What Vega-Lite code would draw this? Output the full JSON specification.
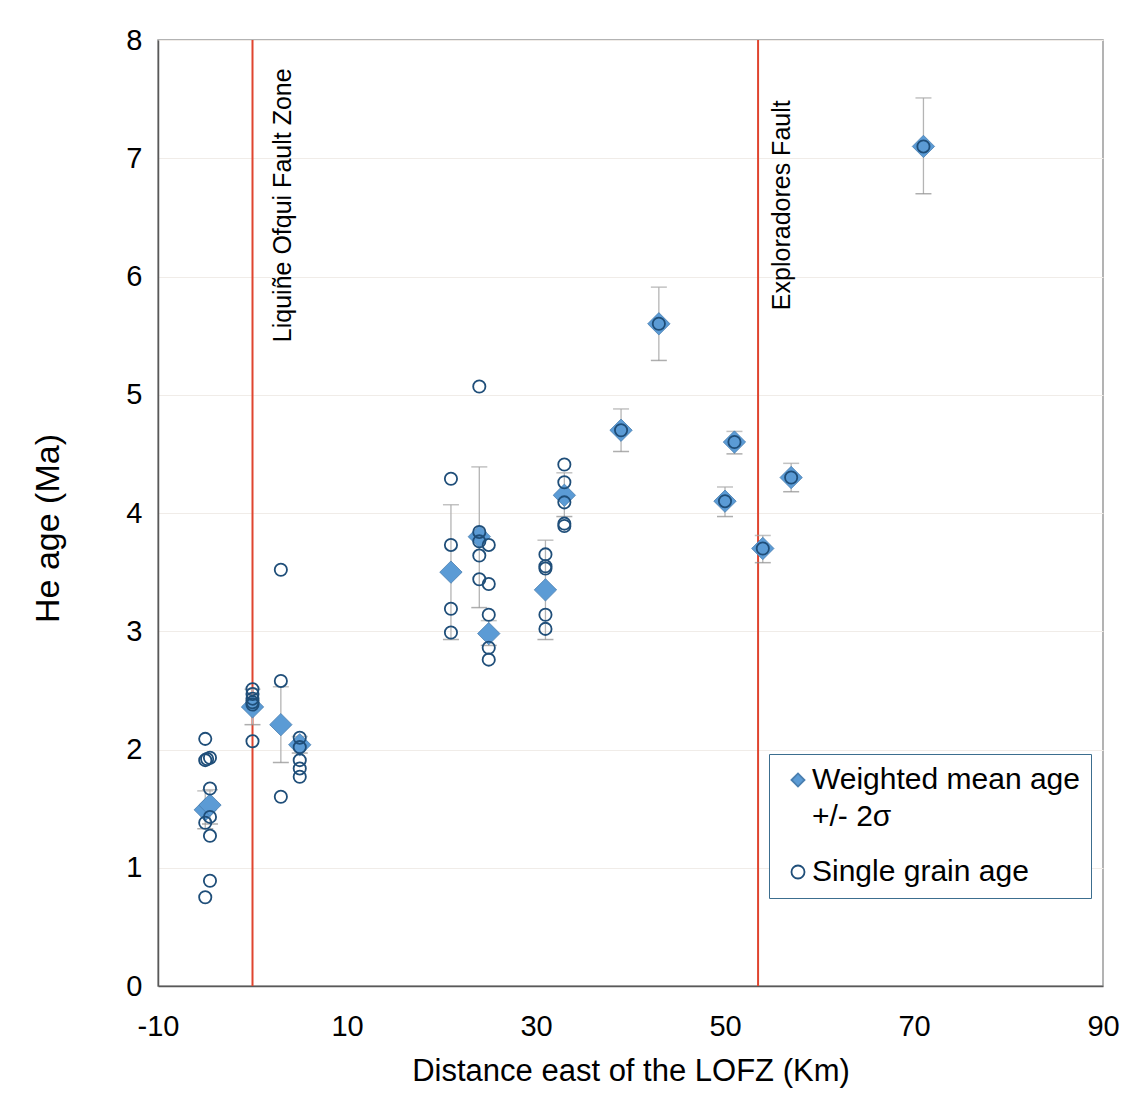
{
  "$schema": "https://vega.github.io/schema/vega-lite/v6.json",
  "autosize": "none",
  "width": 945,
  "height": 946,
  "padding": {"left": 158, "top": 40, "right": 31, "bottom": 125},
  "background": "white",
  "config": {
    "font": "Liberation Sans",
    "view": {"stroke": "#9a9a9a", "strokeWidth": 1.5},
    "axis": {"labelFont": "Liberation Sans", "titleFont": "Liberation Sans", "labelColor": "#000", "titleColor": "#000", "titleFontWeight": "normal", "domainColor": "#595959", "domainWidth": 1.5, "ticks": false, "labelFlush": false, "labelOverlap": false},
    "style": {"guide-label": {"lineHeight": 37}}
  },
  "datasets": {
    "means": [
      {"x": -5, "age": 1.49, "lo": 1.33, "hi": 1.65, "type": "Weighted mean age +/- 2σ"},
      {"x": -4.5, "age": 1.53, "lo": 1.37, "hi": 1.66, "type": "Weighted mean age +/- 2σ"},
      {"x": 0, "age": 2.36, "lo": 2.21, "hi": 2.51, "type": "Weighted mean age +/- 2σ"},
      {"x": 3, "age": 2.21, "lo": 1.89, "hi": 2.53, "type": "Weighted mean age +/- 2σ"},
      {"x": 5, "age": 2.04, "lo": 1.97, "hi": 2.11, "type": "Weighted mean age +/- 2σ"},
      {"x": 21, "age": 3.5, "lo": 2.93, "hi": 4.07, "type": "Weighted mean age +/- 2σ"},
      {"x": 24, "age": 3.8, "lo": 3.2, "hi": 4.39, "type": "Weighted mean age +/- 2σ"},
      {"x": 25, "age": 2.98, "lo": 2.88, "hi": 3.09, "type": "Weighted mean age +/- 2σ"},
      {"x": 31, "age": 3.35, "lo": 2.93, "hi": 3.77, "type": "Weighted mean age +/- 2σ"},
      {"x": 33, "age": 4.15, "lo": 3.97, "hi": 4.34, "type": "Weighted mean age +/- 2σ"},
      {"x": 39, "age": 4.7, "lo": 4.52, "hi": 4.88, "type": "Weighted mean age +/- 2σ"},
      {"x": 43, "age": 5.6, "lo": 5.29, "hi": 5.91, "type": "Weighted mean age +/- 2σ"},
      {"x": 50, "age": 4.1, "lo": 3.97, "hi": 4.22, "type": "Weighted mean age +/- 2σ"},
      {"x": 51, "age": 4.6, "lo": 4.5, "hi": 4.69, "type": "Weighted mean age +/- 2σ"},
      {"x": 54, "age": 3.7, "lo": 3.58, "hi": 3.81, "type": "Weighted mean age +/- 2σ"},
      {"x": 57, "age": 4.3, "lo": 4.18, "hi": 4.42, "type": "Weighted mean age +/- 2σ"},
      {"x": 71, "age": 7.1, "lo": 6.7, "hi": 7.51, "type": "Weighted mean age +/- 2σ"}
    ],
    "grains": [
      {"x": -5, "age": 2.09, "type": "Single grain age"},
      {"x": -5, "age": 1.91, "type": "Single grain age"},
      {"x": -5, "age": 1.38, "type": "Single grain age"},
      {"x": -5, "age": 0.75, "type": "Single grain age"},
      {"x": -4.8, "age": 1.92, "type": "Single grain age"},
      {"x": -4.5, "age": 1.93, "type": "Single grain age"},
      {"x": -4.5, "age": 1.67, "type": "Single grain age"},
      {"x": -4.5, "age": 1.43, "type": "Single grain age"},
      {"x": -4.5, "age": 1.27, "type": "Single grain age"},
      {"x": -4.5, "age": 0.89, "type": "Single grain age"},
      {"x": 0, "age": 2.51, "type": "Single grain age"},
      {"x": 0, "age": 2.47, "type": "Single grain age"},
      {"x": 0, "age": 2.43, "type": "Single grain age"},
      {"x": 0, "age": 2.4, "type": "Single grain age"},
      {"x": 0, "age": 2.38, "type": "Single grain age"},
      {"x": 0, "age": 2.07, "type": "Single grain age"},
      {"x": 3, "age": 3.52, "type": "Single grain age"},
      {"x": 3, "age": 2.58, "type": "Single grain age"},
      {"x": 3, "age": 1.6, "type": "Single grain age"},
      {"x": 5, "age": 2.1, "type": "Single grain age"},
      {"x": 5, "age": 2.02, "type": "Single grain age"},
      {"x": 5, "age": 1.91, "type": "Single grain age"},
      {"x": 5, "age": 1.84, "type": "Single grain age"},
      {"x": 5, "age": 1.77, "type": "Single grain age"},
      {"x": 21, "age": 4.29, "type": "Single grain age"},
      {"x": 21, "age": 3.73, "type": "Single grain age"},
      {"x": 21, "age": 3.19, "type": "Single grain age"},
      {"x": 21, "age": 2.99, "type": "Single grain age"},
      {"x": 24, "age": 5.07, "type": "Single grain age"},
      {"x": 24, "age": 3.84, "type": "Single grain age"},
      {"x": 24, "age": 3.76, "type": "Single grain age"},
      {"x": 24, "age": 3.64, "type": "Single grain age"},
      {"x": 24, "age": 3.44, "type": "Single grain age"},
      {"x": 25, "age": 3.73, "type": "Single grain age"},
      {"x": 25, "age": 3.4, "type": "Single grain age"},
      {"x": 25, "age": 3.14, "type": "Single grain age"},
      {"x": 25, "age": 2.86, "type": "Single grain age"},
      {"x": 25, "age": 2.76, "type": "Single grain age"},
      {"x": 31, "age": 3.65, "type": "Single grain age"},
      {"x": 31, "age": 3.55, "type": "Single grain age"},
      {"x": 31, "age": 3.53, "type": "Single grain age"},
      {"x": 31, "age": 3.14, "type": "Single grain age"},
      {"x": 31, "age": 3.02, "type": "Single grain age"},
      {"x": 33, "age": 4.41, "type": "Single grain age"},
      {"x": 33, "age": 4.26, "type": "Single grain age"},
      {"x": 33, "age": 4.09, "type": "Single grain age"},
      {"x": 33, "age": 3.91, "type": "Single grain age"},
      {"x": 33, "age": 3.89, "type": "Single grain age"},
      {"x": 39, "age": 4.7, "type": "Single grain age"},
      {"x": 43, "age": 5.6, "type": "Single grain age"},
      {"x": 50, "age": 4.1, "type": "Single grain age"},
      {"x": 51, "age": 4.6, "type": "Single grain age"},
      {"x": 54, "age": 3.7, "type": "Single grain age"},
      {"x": 57, "age": 4.3, "type": "Single grain age"},
      {"x": 71, "age": 7.1, "type": "Single grain age"}
    ],
    "faults": [
      {"x": 0, "y": 7.76, "label": "Liquiñe Ofqui Fault Zone"},
      {"x": 53.5, "y": 7.49, "label": "Exploradores Fault"}
    ]
  },
  "encoding": {
    "x": {"type": "quantitative", "scale": {"domain": [-10, 90], "nice": false, "zero": false}},
    "y": {"type": "quantitative", "scale": {"domain": [0, 8], "nice": false}}
  },
  "layer": [
    {
      "data": {"name": "faults"},
      "mark": {"type": "rule", "color": "#E0452F", "strokeWidth": 2},
      "encoding": {
        "x": {"field": "x", "type": "quantitative", "axis": {"values": [-10, 10, 30, 50, 70, 90], "labelExpr": "datum.value < 0 ? '-' + abs(datum.value) : '' + datum.value", "labelFontSize": 29, "labelPadding": 26, "title": "Distance east of the LOFZ (Km)", "titleFontSize": 31, "titlePadding": 15, "grid": false}}
      }
    },
    {
      "data": {"name": "means"},
      "mark": {"type": "rule", "color": "#b4b4b4", "strokeWidth": 1.3},
      "encoding": {
        "x": {"field": "x", "type": "quantitative"},
        "y": {"field": "lo", "type": "quantitative", "axis": {"values": [0, 1, 2, 3, 4, 5, 6, 7, 8], "format": "d", "labelFontSize": 29, "labelPadding": 16, "title": "He age (Ma)", "titleFontSize": 34, "titlePadding": 60, "titleY": 488, "grid": true, "gridColor": "#f0ece8", "gridWidth": 1}},
        "y2": {"field": "hi"}
      }
    },
    {
      "data": {"name": "means"},
      "mark": {"type": "tick", "orient": "horizontal", "color": "#8c8c8c", "size": 16, "thickness": 1.5},
      "encoding": {
        "x": {"field": "x", "type": "quantitative"},
        "y": {"field": "lo", "type": "quantitative"}
      }
    },
    {
      "data": {"name": "means"},
      "mark": {"type": "tick", "orient": "horizontal", "color": "#a8a8a8", "size": 16, "thickness": 1.5},
      "encoding": {
        "x": {"field": "x", "type": "quantitative"},
        "y": {"field": "hi", "type": "quantitative"}
      }
    },
    {
      "data": {"name": "means"},
      "mark": {"type": "point", "size": 500, "strokeWidth": 0.8, "opacity": 1},
      "encoding": {
        "x": {"field": "x", "type": "quantitative"},
        "y": {"field": "age", "type": "quantitative"},
        "shape": {"field": "type", "type": "nominal", "scale": {"domain": ["Weighted mean age +/- 2σ", "Single grain age"], "range": ["diamond", "circle"]}, "legend": {"title": null}},
        "fill": {"field": "type", "type": "nominal", "scale": {"domain": ["Weighted mean age +/- 2σ", "Single grain age"], "range": ["#5B9BD5", "transparent"]}, "legend": {"title": null}},
        "stroke": {"field": "type", "type": "nominal", "scale": {"domain": ["Weighted mean age +/- 2σ", "Single grain age"], "range": ["#4A7FB0", "#1F4E79"]}, "legend": {"title": null}}
      }
    },
    {
      "data": {"name": "grains"},
      "mark": {"type": "point", "size": 150, "strokeWidth": 1.8, "opacity": 1},
      "encoding": {
        "x": {"field": "x", "type": "quantitative"},
        "y": {"field": "age", "type": "quantitative"},
        "shape": {"field": "type", "type": "nominal", "legend": {"title": null}},
        "fill": {"field": "type", "type": "nominal", "legend": {"title": null}},
        "stroke": {"field": "type", "type": "nominal", "legend": {
          "title": null,
          "orient": "none", "legendX": 611, "legendY": 714,
          "strokeColor": "#3C6E8F", "fillColor": "white", "padding": 11,
          "labelFontSize": 30, "labelFont": "Liberation Sans", "labelColor": "#000", "labelLimit": 400,
          "rowPadding": 25, "symbolSize": 170, "symbolStrokeWidth": 1.8, "labelOffset": -1, "symbolOffset": 3,
          "labelExpr": "datum.label == 'Weighted mean age +/- 2σ' ? ['Weighted mean age', '+/- 2σ'] : datum.label"
        }}
      }
    },
    {
      "data": {"name": "faults"},
      "transform": [{"filter": "datum.x == 0"}],
      "mark": {"type": "text", "angle": 270, "align": "right", "baseline": "top", "dy": 18, "fontSize": 25, "font": "Liberation Sans", "color": "#000"},
      "encoding": {
        "x": {"field": "x", "type": "quantitative"},
        "y": {"field": "y", "type": "quantitative"},
        "text": {"field": "label"}
      }
    },
    {
      "data": {"name": "faults"},
      "transform": [{"filter": "datum.x != 0"}],
      "mark": {"type": "text", "angle": 270, "align": "right", "baseline": "top", "dy": 12, "fontSize": 25, "font": "Liberation Sans", "color": "#000"},
      "encoding": {
        "x": {"field": "x", "type": "quantitative"},
        "y": {"field": "y", "type": "quantitative"},
        "text": {"field": "label"}
      }
    }
  ]
}
